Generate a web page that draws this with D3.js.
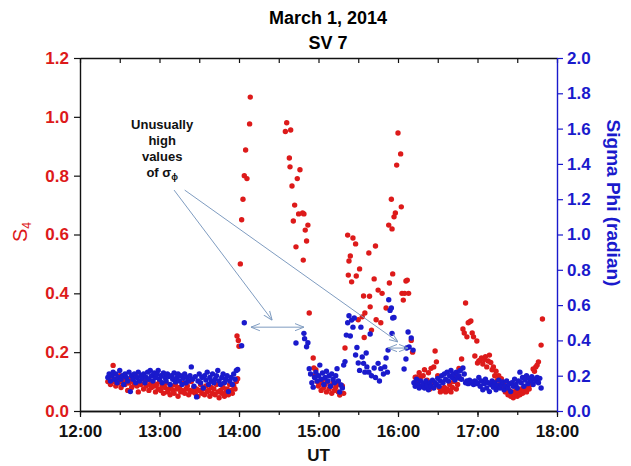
<!DOCTYPE html>
<html>
<head>
<meta charset="utf-8">
<script src="https://cdn.jsdelivr.net/npm/d3@7"></script>
<style>
  body { margin: 0; background: #fff; }
  text { font-family: Arial, "Liberation Sans", sans-serif; }
</style>
</head>
<body>
<script>
// time in minutes after 12:00 UT
var hourTicks = [0, 60, 120, 180, 240, 300, 360];
var hourLabels = ['12:00', '13:00', '14:00', '15:00', '16:00', '17:00', '18:00'];
var halfHourTicks = [0, 30, 60, 90, 120, 150, 180, 210, 240, 270, 300, 330, 360];
var s4Ticks = [0, 0.2, 0.4, 0.6, 0.8, 1.0, 1.2];
var sigmaTicks = [0, 0.2, 0.4, 0.6, 0.8, 1.0, 1.2, 1.4, 1.6, 1.8, 2.0];

// S4 (red, left axis): [minute, S4]
var s4Data = [
  [21,0.10],[22,0.11],[23,0.09],[24,0.12],[25,0.155],[26,0.10],[27,0.085],[28,0.11],[29,0.095],[30,0.12],
  [31,0.08],[32,0.10],[33,0.115],[34,0.09],[35,0.105],[36,0.07],[37,0.095],[38,0.11],[39,0.08],[40,0.10],
  [41,0.09],[42,0.12],[43,0.085],[44,0.065],[45,0.10],[46,0.09],[47,0.11],[48,0.075],[49,0.095],[50,0.085],
  [51,0.105],[52,0.07],[53,0.09],[54,0.08],[55,0.10],[56,0.085],[57,0.065],[58,0.09],[59,0.075],[60,0.10],
  [61,0.07],[62,0.085],[63,0.06],[64,0.08],[65,0.095],[66,0.065],[67,0.075],[68,0.055],[69,0.085],[70,0.07],
  [71,0.06],[72,0.09],[73,0.075],[74,0.05],[75,0.08],[76,0.065],[77,0.07],[78,0.095],[79,0.06],[80,0.075],
  [81,0.085],[82,0.055],[83,0.07],[84,0.10],[85,0.065],[86,0.08],[87,0.06],[88,0.075],[89,0.05],[90,0.07],
  [91,0.09],[92,0.06],[93,0.075],[94,0.055],[95,0.085],[96,0.065],[97,0.07],[98,0.05],[99,0.08],[100,0.06],
  [101,0.075],[102,0.055],[103,0.09],[104,0.065],[105,0.045],[106,0.07],[107,0.06],[108,0.08],[109,0.05],[110,0.065],
  [111,0.075],[112,0.055],[113,0.09],[114,0.07],[115,0.06],[116,0.085],[117,0.075],[118,0.10],[119,0.11],
  [118.5,0.255],[119.5,0.24],[120,0.22],[121,0.50],[122,0.65],[123,0.72],[124,0.80],[125,0.887],[126,0.79],
  [128,0.976],[128.5,1.067],
  [155,0.95],[156,0.98],[158,0.86],[158.5,0.83],[159,0.955],[160,0.765],[161,0.646],[162,0.70],[163,0.558],
  [164,0.79],[165,0.67],[166,0.82],[168,0.673],[168.5,0.513],[169,0.67],[170,0.615],[171,0.578],[172,0.632],
  [173,0.333],[176,0.18],[176.5,0.146],
  [177,0.12],[178,0.14],[179,0.10],[180,0.085],[181,0.095],[182,0.07],[183,0.105],[184,0.08],[185,0.09],
  [186,0.065],[187,0.10],[188,0.075],[189,0.085],[190,0.06],[191,0.095],[192,0.07],[193,0.08],[194,0.09],
  [195,0.065],[196,0.054],[197,0.088],[198,0.085],[199,0.06],
  [200,0.214],[202,0.598],[202.5,0.462],[203,0.51],[204,0.527],[205,0.439],[206,0.588],[208,0.568],[208.5,0.459],
  [210,0.31],[211,0.483],[213,0.32],[214,0.391],[214.5,0.25],[215,0.333],[218,0.537],[218.5,0.39],[219,0.354],
  [220,0.275],[222,0.449],[223,0.561],[223.5,0.31],[225,0.411],[227,0.30],[228,0.40],[231,0.35],[233,0.632],
  [233.5,0.435],[235,0.72],[235.5,0.619],[236,0.466],[237,0.66],[238,0.673],[239,0.836],[240,0.945],[242,0.874],
  [242.5,0.694],[243,0.40],[244,0.377],[245,0.40],[246,0.442],[247,0.445],[248,0.40],
  [250,0.24],[251,0.20],[253,0.115],
  [254,0.115],[255,0.10],[256,0.13],[257,0.115],[258,0.085],[259,0.12],[260,0.14],[261,0.09],[262,0.105],
  [263,0.13],[264,0.075],[265,0.145],[266,0.095],[267,0.15],[268,0.204],[269,0.167],[270,0.12],[271,0.08],
  [272,0.065],[273,0.075],[274,0.07],[275,0.08],[276,0.065],[277,0.075],[278,0.07],[279,0.09],[280,0.065],
  [281,0.08],[282,0.10],[283,0.12],[284,0.075],[285,0.09],[286,0.145],[287,0.11],[288,0.177],
  [289,0.279],[290,0.265],[291,0.367],[292,0.252],[293,0.30],[294,0.303],[295,0.306],[296,0.265],[297,0.252],
  [298,0.187],[299.5,0.238],[300,0.163],[301,0.17],[302,0.173],
  [303,0.18],[304,0.16],[305,0.175],[306,0.185],[307,0.15],[308,0.17],[309,0.19],[310,0.165],[311,0.14],
  [312,0.15],[313,0.12],[314,0.135],[315,0.105],[316,0.12],[317,0.09],[318,0.11],[319,0.08],[320,0.095],
  [321,0.065],[322,0.075],[323,0.055],[324,0.07],[325,0.05],[326,0.065],[327,0.045],[328,0.06],[329,0.07],
  [330,0.05],[331,0.065],[332,0.055],[333,0.075],[334,0.06],[335,0.07],[336,0.08],[337,0.065],[338,0.085],
  [339,0.075],[340,0.09],[341,0.11],[342,0.143],[343,0.135],[344,0.15],[345,0.156],[346,0.167],[348,0.224],
  [349,0.313]
];

// Sigma Phi (blue, right axis): [minute, radian]
var sigmaData = [
  [21,0.19],[22,0.21],[23,0.17],[24,0.20],[25,0.22],[26,0.18],[27,0.21],[28,0.16],[29,0.19],[30,0.23],
  [31,0.18],[32,0.20],[33,0.15],[34,0.21],[35,0.19],[36,0.17],[37,0.22],[38,0.11],[39,0.20],[40,0.18],
  [41,0.21],[42,0.16],[43,0.19],[44,0.22],[45,0.17],[46,0.20],[47,0.185],[48,0.21],[49,0.16],[50,0.19],
  [51,0.22],[52,0.18],[53,0.23],[54,0.20],[55,0.17],[56,0.215],[57,0.19],[58,0.21],[59,0.23],[60,0.18],
  [61,0.20],[62,0.16],[63,0.215],[64,0.19],[65,0.17],[66,0.21],[67,0.195],[68,0.15],[69,0.20],[70,0.18],
  [71,0.215],[72,0.165],[73,0.19],[74,0.21],[75,0.17],[76,0.20],[77,0.15],[78,0.185],[79,0.21],[80,0.16],
  [81,0.19],[82,0.17],[83,0.20],[84,0.25],[85,0.18],[86,0.14],[87,0.195],[88,0.08],[89,0.17],[90,0.21],
  [91,0.16],[92,0.19],[93,0.13],[94,0.20],[95,0.175],[96,0.22],[97,0.15],[98,0.19],[99,0.17],[100,0.21],
  [101,0.16],[102,0.18],[103,0.20],[104,0.23],[105,0.17],[106,0.15],[107,0.19],[108,0.21],[109,0.16],[110,0.18],
  [111,0.20],[112,0.11],[113,0.17],[114,0.19],[115,0.15],[116,0.21],[117,0.18],[118,0.23],[119,0.235],
  [122,0.37],[124,0.50],
  [163,0.385],[169,0.44],[169.5,0.41],[171,0.364],[172,0.387],
  [173,0.24],[174,0.21],[175,0.16],[176,0.135],[177,0.19],[178,0.22],[179,0.17],[180,0.20],[181,0.26],
  [182,0.18],[183,0.215],[184,0.15],[185,0.19],[186,0.225],[187,0.17],[188,0.20],[189,0.14],[190,0.21],
  [191,0.18],[192,0.16],[193,0.20],[194,0.24],[195,0.17],[196,0.107],[197,0.147],[198,0.13],[199,0.26],[200,0.28],
  [201,0.43],[202,0.50],[203,0.54],[204,0.425],[205,0.515],[206,0.475],[207,0.527],[208,0.317],[209,0.36],
  [210,0.272],[211,0.23],[212,0.475],[213,0.306],[214,0.27],[215,0.22],[216,0.329],[216.5,0.25],[218,0.22],
  [219,0.436],[220,0.20],[222,0.244],[223,0.19],[225,0.27],[226,0.17],[227,0.24],[229,0.21],[230,0.25],
  [231,0.30],[232,0.22],[232.5,0.345],[233,0.63],[234,0.57],[235,0.584],[235.5,0.44],[236,0.527],[237,0.53],
  [244.6,0.238],[246,0.295],[246.5,0.357],[247.6,0.448],[248.4,0.363],[250,0.414],[251.4,0.345],
  [252,0.16],[253,0.14],[254,0.18],[255,0.15],[256,0.13],[257,0.17],[258,0.14],[259,0.155],[260,0.13],
  [261,0.17],[262,0.145],[263,0.12],[264,0.16],[265,0.14],[266,0.175],[267,0.13],[268,0.16],[269,0.15],
  [270,0.185],[271,0.14],[272,0.17],[273,0.20],[274,0.16],[275,0.21],[276,0.18],[277,0.22],[278,0.17],
  [279,0.20],[280,0.23],[281,0.19],[282,0.21],[283,0.175],[284,0.22],[285,0.19],[286,0.20],[287,0.23],
  [288,0.18],[289,0.244],[290,0.21],[291,0.16],[292,0.17],[293,0.155],[294,0.175],[295,0.16],[296,0.165],
  [297,0.15],[298,0.17],[299,0.155],[300,0.16],[301,0.19],[302,0.14],[303,0.17],[304,0.12],[305,0.155],
  [306,0.18],[307,0.13],[308,0.16],[309,0.11],[310,0.15],[311,0.17],[312,0.135],[313,0.16],[314,0.12],
  [315,0.145],[316,0.175],[317,0.13],[318,0.15],[319,0.165],[320,0.12],[321,0.14],[322,0.17],[323,0.13],
  [324,0.155],[325,0.11],[326,0.16],[327,0.14],[328,0.18],[329,0.15],[330,0.13],[331,0.17],[332,0.22],
  [333,0.16],[334,0.19],[335,0.14],[336,0.175],[337,0.20],[338,0.155],[339,0.185],[340,0.17],[341,0.195],
  [342,0.15],[343,0.18],[344,0.17],[345,0.19],[346,0.16],[347,0.185],[348,0.13]
];

// annotation, in data units (minute, S4)
var noteLines = ['Unusually', 'high', 'values'];
var notePos = [62, 0.959];
var pointerArrows = [[[71, 0.751], [145, 0.309]], [[79, 0.751], [240, 0.235]]];
var spanArrows = [[[129, 0.285], [169, 0.285]], [[232.5, 0.214], [247.6, 0.214]]];

var width = 631;
var height = 466;
var red = '#dd1a1a';
var blue = '#1a1acc';
var noteColor = '#7f9cc0';

var x = d3.scaleLinear().domain([0, 360]).range([80, 557]);
var yL = d3.scaleLinear().domain([0, 1.2]).range([411, 58]);
var yR = d3.scaleLinear().domain([0, 2]).range([411, 58]);

var svg = d3.select('body').append('svg').attr('width', width).attr('height', height);

var defs = svg.append('defs');
defs.append('marker')
  .attr('id', 'head')
  .attr('viewBox', '0 0 10 10')
  .attr('refX', 10).attr('refY', 5)
  .attr('markerWidth', 9).attr('markerHeight', 9)
  .attr('markerUnits', 'userSpaceOnUse')
  .attr('orient', 'auto-start-reverse')
  .append('path')
  .attr('d', 'M0,1 L10,5 L0,9')
  .attr('fill', 'none')
  .attr('stroke', noteColor)
  .attr('stroke-width', 1.1);

// title
svg.append('text').attr('x', 328).attr('y', 24).attr('text-anchor', 'middle')
  .attr('font-size', 18).attr('font-weight', 'bold').text('March 1, 2014');
svg.append('text').attr('x', 328).attr('y', 49).attr('text-anchor', 'middle')
  .attr('font-size', 18).attr('font-weight', 'bold').text('SV 7');

// top frame, ticks inward
var topAxis = svg.append('g').attr('transform', 'translate(0,' + yL(1.2) + ')')
  .call(d3.axisBottom(x).tickValues(halfHourTicks).tickSize(5).tickSizeOuter(0).tickFormat(''));

// bottom axis: half hour minor, hour labels
var botMinor = svg.append('g').attr('transform', 'translate(0,' + yL(0) + ')')
  .call(d3.axisBottom(x).tickValues(halfHourTicks).tickSize(4).tickSizeOuter(0).tickFormat(''));
var botAxis = svg.append('g').attr('transform', 'translate(0,' + yL(0) + ')')
  .call(d3.axisBottom(x).tickValues(hourTicks).tickSize(6).tickSizeOuter(0).tickPadding(8)
    .tickFormat(function(d, i) { return hourLabels[i]; }));
botAxis.selectAll('text').attr('font-size', 17).attr('font-weight', 'bold').attr('fill', '#111');

var leftAxis = svg.append('g').attr('transform', 'translate(' + x(0) + ',0)')
  .call(d3.axisLeft(yL).tickValues(s4Ticks).tickSize(6).tickSizeOuter(0).tickPadding(5)
    .tickFormat(d3.format('.1f')));
leftAxis.selectAll('text').attr('font-size', 17).attr('font-weight', 'bold').attr('fill', red);

var rightAxis = svg.append('g').attr('transform', 'translate(' + x(360) + ',0)')
  .call(d3.axisRight(yR).tickValues(sigmaTicks).tickSize(6).tickSizeOuter(0).tickPadding(4)
    .tickFormat(d3.format('.1f')));
rightAxis.selectAll('text').attr('font-size', 17).attr('font-weight', 'bold').attr('fill', blue);

[topAxis, botMinor, botAxis, leftAxis].forEach(function(g) {
  g.selectAll('path, line').attr('stroke', '#111').attr('stroke-width', 1.2);
  g.select('.domain').attr('stroke-width', 1.4);
});
rightAxis.selectAll('path, line').attr('stroke', blue).attr('stroke-width', 1.2);
rightAxis.select('.domain').attr('stroke-width', 1.4);

// axis titles
svg.append('text').attr('x', x(180)).attr('y', 461).attr('text-anchor', 'middle')
  .attr('font-size', 17).attr('font-weight', 'bold').attr('fill', '#111').text('UT');

var s4Label = svg.append('text').attr('transform', 'translate(27,232) rotate(-90)')
  .attr('text-anchor', 'middle').attr('font-size', 20).attr('fill', red);
s4Label.append('tspan').text('S');
s4Label.append('tspan').attr('font-size', 12).attr('dy', 4).text('4');

svg.append('text').attr('transform', 'translate(607,203) rotate(90)')
  .attr('text-anchor', 'middle').attr('font-size', 19).attr('font-weight', 'bold')
  .attr('fill', blue).text('Sigma Phi (radian)');

// points
svg.append('g').selectAll('circle')
  .data(s4Data)
  .enter()
  .append('circle')
  .attr('cx', function(d) { return x(d[0]); })
  .attr('cy', function(d) { return yL(d[1]); })
  .attr('r', 2.7)
  .attr('fill', red);

svg.append('g').selectAll('circle')
  .data(sigmaData)
  .enter()
  .append('circle')
  .attr('cx', function(d) { return x(d[0]); })
  .attr('cy', function(d) { return yR(d[1]); })
  .attr('r', 2.7)
  .attr('fill', blue);

// annotation
var note = svg.append('text')
  .attr('x', x(notePos[0])).attr('y', yL(notePos[1]))
  .attr('text-anchor', 'middle').attr('font-size', 13).attr('font-weight', 'bold').attr('fill', '#111');
noteLines.forEach(function(t, i) {
  note.append('tspan').attr('x', x(notePos[0])).attr('dy', i === 0 ? 0 : 16).text(t);
});
note.append('tspan').attr('x', x(notePos[0])).attr('dy', 16).text('of \u03c3');
note.append('tspan').attr('font-size', 9).attr('dy', 3).text('\u03d5');

pointerArrows.forEach(function(a) {
  svg.append('line')
    .attr('x1', x(a[0][0])).attr('y1', yL(a[0][1]))
    .attr('x2', x(a[1][0])).attr('y2', yL(a[1][1]))
    .attr('stroke', noteColor).attr('stroke-width', 1)
    .attr('marker-end', 'url(#head)');
});
spanArrows.forEach(function(a) {
  svg.append('line')
    .attr('x1', x(a[0][0])).attr('y1', yL(a[0][1]))
    .attr('x2', x(a[1][0])).attr('y2', yL(a[1][1]))
    .attr('stroke', noteColor).attr('stroke-width', 1)
    .attr('marker-start', 'url(#head)')
    .attr('marker-end', 'url(#head)');
});
</script>
</body>
</html>
